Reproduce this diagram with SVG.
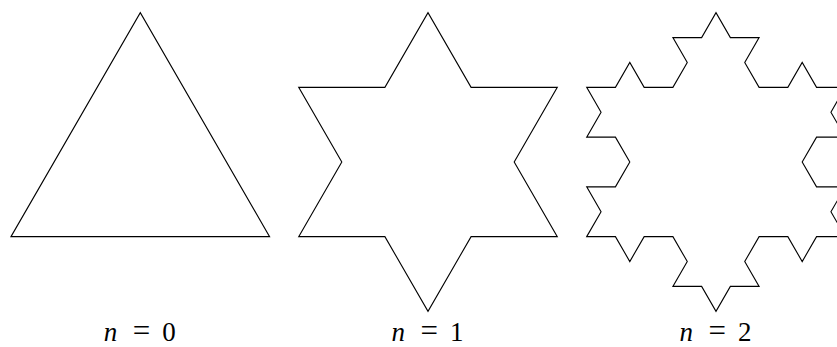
<svg xmlns="http://www.w3.org/2000/svg" width="837" height="347" viewBox="0 0 837 347">
<style>
.k{fill:none;stroke:#000;stroke-width:1.1;stroke-linejoin:miter}
.lbl{font-family:"Liberation Serif","DejaVu Serif",serif;font-size:27px;fill:#000;text-anchor:middle}
.it{font-style:italic}
.eq{font-size:31px}
</style>
<rect width="837" height="347" fill="#fff"/>
<g id="koch0">
<path class="k" d="M11 236.65 L140.3 12.7 L269.6 236.65 Z"/>
<text class="lbl" y="341"><tspan class="it" x="110.6">n</tspan><tspan class="eq" x="141.5">=</tspan><tspan x="169">0</tspan></text>
</g>
<g id="koch1">
<path class="k" d="M298.7 236.65 l43.1 -74.651 l-43.1 -74.651 l86.2 0 l43.1 -74.651 l43.1 74.651 l86.2 0 l-43.1 74.651 l43.1 74.651 l-86.2 0 l-43.1 74.651 l-43.1 -74.651 Z"/>
<text class="lbl" y="341"><tspan class="it" x="398.3">n</tspan><tspan class="eq" x="429.2">=</tspan><tspan x="456.7">1</tspan></text>
</g>
<g id="koch2">
<path class="k" d="M586.7 236.65
l14.367 -24.884 l-14.367 -24.884 l28.733 0 l14.367 -24.884
l-14.367 -24.884 l-28.733 0 l14.367 -24.884 l-14.367 -24.884
l28.733 0 l14.367 -24.884 l14.367 24.884 l28.733 0
l14.367 -24.884 l-14.367 -24.884 l28.733 0 l14.367 -24.884
l14.367 24.884 l28.733 0 l-14.367 24.884 l14.367 24.884
l28.733 0 l14.367 -24.884 l14.367 24.884 l28.733 0
l-14.367 24.884 l14.367 24.884 l-28.733 0 l-14.367 24.884
l14.367 24.884 l28.733 0 l-14.367 24.884 l14.367 24.884
l-28.733 0 l-14.367 24.884 l-14.367 -24.884 l-28.733 0
l-14.367 24.884 l14.367 24.884 l-28.733 0 l-14.367 24.884
l-14.367 -24.884 l-28.733 0 l14.367 -24.884 l-14.367 -24.884
l-28.733 0 l-14.367 24.884 l-14.367 -24.884 l-28.733 0 Z"/>
<text class="lbl" y="341"><tspan class="it" x="686.3">n</tspan><tspan class="eq" x="717.2">=</tspan><tspan x="744.7">2</tspan></text>
</g>
</svg>
